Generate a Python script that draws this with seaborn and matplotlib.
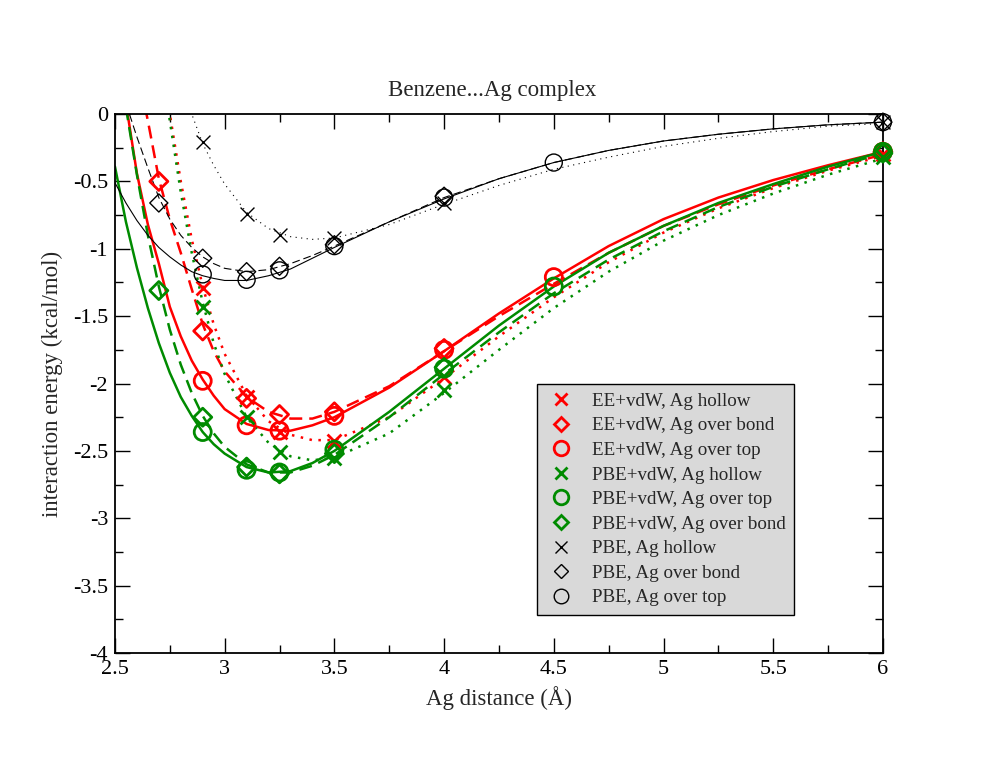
import numpy as np
import seaborn as sns
import matplotlib
matplotlib.use('Agg')
import matplotlib.pyplot as plt
from matplotlib.lines import Line2D
from matplotlib.ticker import MultipleLocator, FormatStrFormatter

nan = np.nan

# computed points (Ag distance in A, energy in kcal/mol)
r_hollow = [2.9, 3.1, 3.25, 3.5, 4.0, 6.0]
r_bond = [2.7, 2.9, 3.1, 3.25, 3.5, 4.0, 6.0]
r_top = [2.9, 3.1, 3.25, 3.5, 4.0, 4.5, 6.0]

ee_hollow = [-1.29, -2.10, -2.36, -2.43, -1.95, -0.30]
ee_bond = [-0.50, -1.61, -2.11, -2.23, -2.21, -1.74, -0.28]
ee_top = [-1.98, -2.31, -2.35, -2.24, -1.75, -1.21, -0.28]
vdw_hollow = [-1.43, -2.25, -2.51, -2.55, -2.05, -0.32]
vdw_top = [-2.36, -2.64, -2.66, -2.49, -1.89, -1.28, -0.28]
vdw_bond = [-1.31, -2.25, -2.62, -2.67, -2.52, -1.88, -0.29]
pbe_hollow = [-0.21, -0.74, -0.90, -0.92, -0.66, -0.06]
pbe_bond = [-0.66, -1.07, -1.17, -1.13, -0.97, -0.61, -0.06]
pbe_top = [-1.19, -1.23, -1.16, -0.98, -0.62, -0.36, -0.06]

# fitted curves
r_fit = [2.5, 2.55, 2.6, 2.65, 2.7, 2.75, 2.8, 2.85, 2.9, 2.95, 3.0, 3.1, 3.2,
         3.3, 3.4, 3.5, 3.75, 4.0, 4.25, 4.5, 4.75, 5.0, 5.25, 5.5, 5.75, 6.0]
ee_top_fit = [0.6, 0.08, -0.44, -0.82, -1.11, -1.43, -1.65, -1.83, -1.97, -2.09, -2.19, -2.30, -2.345,
              -2.35, -2.31, -2.25, -2.03, -1.76, -1.48, -1.22, -0.98, -0.78, -0.62, -0.49, -0.38, -0.28]
ee_bond_fit = [nan, nan, 0.35, -0.05, -0.48, -0.78, -1.03, -1.30, -1.56, -1.76, -1.91, -2.10, -2.21,
               -2.26, -2.26, -2.21, -2.02, -1.76, -1.50, -1.26, -1.03, -0.83, -0.67, -0.53, -0.41, -0.30]
ee_hollow_fit = [nan, nan, nan, nan, 0.5, 0.0, -0.50, -0.93, -1.28, -1.56, -1.78, -2.09, -2.28,
                 -2.38, -2.42, -2.42, -2.25, -1.96, -1.65, -1.36, -1.10, -0.88, -0.70, -0.55, -0.42, -0.31]
vdw_top_fit = [-0.39, -0.80, -1.14, -1.44, -1.70, -1.92, -2.10, -2.24, -2.36, -2.45, -2.52, -2.62, -2.66,
               -2.65, -2.59, -2.50, -2.21, -1.89, -1.57, -1.28, -1.03, -0.83, -0.66, -0.52, -0.39, -0.28]
vdw_bond_fit = [nan, 0.05, -0.45, -0.90, -1.28, -1.60, -1.86, -2.07, -2.24, -2.37, -2.47, -2.60, -2.66,
                -2.66, -2.61, -2.53, -2.25, -1.93, -1.62, -1.33, -1.08, -0.87, -0.69, -0.54, -0.41, -0.29]
vdw_hollow_fit = [nan, nan, nan, nan, 0.5, -0.05, -0.58, -1.03, -1.40, -1.70, -1.93, -2.25, -2.44,
                  -2.54, -2.57, -2.55, -2.37, -2.07, -1.75, -1.44, -1.17, -0.94, -0.75, -0.59, -0.45, -0.33]
pbe_top_fit = [-0.51, -0.66, -0.79, -0.90, -0.99, -1.06, -1.12, -1.17, -1.20, -1.22, -1.235, -1.235, -1.20,
               -1.15, -1.07, -0.99, -0.80, -0.63, -0.48, -0.36, -0.27, -0.20, -0.15, -0.11, -0.08, -0.06]
pbe_bond_fit = [nan, 0.08, -0.17, -0.40, -0.62, -0.78, -0.90, -0.99, -1.06, -1.11, -1.145, -1.17, -1.155,
                -1.11, -1.05, -0.98, -0.80, -0.62, -0.48, -0.36, -0.27, -0.20, -0.15, -0.11, -0.08, -0.06]
pbe_hollow_fit = [nan, nan, nan, nan, nan, nan, 0.3, 0.0, -0.22, -0.38, -0.52, -0.73, -0.85,
                  -0.91, -0.93, -0.92, -0.82, -0.67, -0.53, -0.41, -0.32, -0.24, -0.18, -0.13, -0.09, -0.07]

RED = '#ff0000'
GREEN = '#008b00'
BLACK = '#000000'

sns.set_style('ticks')
plt.rcParams['font.family'] = ['Liberation Serif', 'DejaVu Serif']
plt.rcParams['axes.unicode_minus'] = False

fig = plt.figure(figsize=(10.04, 7.69), dpi=100)
ax = fig.add_axes([0.1145, 0.1508, 0.7649, 0.7009])

# curves
fits = [
    (ee_top_fit, RED, '-', 1.8), (ee_bond_fit, RED, (0, (5.2, 2.8)), 1.8), (ee_hollow_fit, RED, (0, (1, 2.6)), 1.8),
    (vdw_top_fit, GREEN, '-', 1.8), (vdw_bond_fit, GREEN, (0, (5.2, 2.8)), 1.8), (vdw_hollow_fit, GREEN, (0, (1, 2.6)), 1.8),
    (pbe_top_fit, BLACK, '-', 0.8), (pbe_bond_fit, BLACK, (0, (7, 3.5)), 0.8), (pbe_hollow_fit, BLACK, (0, (1, 4)), 0.8),
]
for vals, c, ls, lw in fits:
    sns.lineplot(x=r_fit, y=vals, color=c, linestyle=ls, linewidth=lw, ax=ax, zorder=2)

# points
pts = [
    (r_hollow, ee_hollow, RED, 'x', 100, 2.0), (r_bond, ee_bond, RED, 'D', 85, 2.0), (r_top, ee_top, RED, 'o', 150, 2.0),
    (r_hollow, vdw_hollow, GREEN, 'x', 100, 2.0), (r_top, vdw_top, GREEN, 'o', 150, 2.0), (r_bond, vdw_bond, GREEN, 'D', 85, 2.0),
    (r_hollow, pbe_hollow, BLACK, 'x', 100, 1.0), (r_bond, pbe_bond, BLACK, 'D', 85, 1.0), (r_top, pbe_top, BLACK, 'o', 150, 1.0),
]
for x, y, c, m, s, lw in pts:
    if m == 'x':
        sns.scatterplot(x=x, y=y, marker=m, color=c, s=s, linewidth=lw, ax=ax, zorder=3, clip_on=False)
    else:
        sns.scatterplot(x=x, y=y, marker=m, facecolor='none', edgecolor=c, s=s, linewidth=lw, ax=ax,
                        zorder=3, clip_on=False)

ax.set_xlim(2.5, 6)
ax.set_ylim(-4, 0)
ax.xaxis.set_major_locator(MultipleLocator(0.5))
ax.xaxis.set_minor_locator(MultipleLocator(0.25))
ax.yaxis.set_major_locator(MultipleLocator(0.5))
ax.yaxis.set_minor_locator(MultipleLocator(0.25))
ax.xaxis.set_major_formatter(FormatStrFormatter('%g'))
ax.yaxis.set_major_formatter(FormatStrFormatter('%g'))
ax.tick_params(which='both', direction='in', top=True, right=True, width=1, colors='black',
               labelsize=16)
ax.tick_params(which='major', length=10.5, pad=5)
ax.tick_params(which='minor', length=5.5)
for sp in ax.spines.values():
    sp.set_linewidth(1.3)
    sp.set_color('black')

ax.set_title('Benzene...Ag complex', fontsize=16.5, pad=13, x=0.491)
ax.set_xlabel('Ag distance (Å)', fontsize=16.5, labelpad=5)
ax.set_ylabel('interaction energy (kcal/mol)', fontsize=16.5, labelpad=7)

# legend: markers only
labels = ['EE+vdW, Ag hollow', 'EE+vdW, Ag over bond', 'EE+vdW, Ag over top',
          'PBE+vdW, Ag hollow', 'PBE+vdW, Ag over top', 'PBE+vdW, Ag over bond',
          'PBE, Ag hollow', 'PBE, Ag over bond', 'PBE, Ag over top']
handles = []
for (x, y, c, m, s, lw), lab in zip(pts, labels):
    ms = {'x': 8, 'D': 7.5, 'o': 10.5}[m]
    handles.append(Line2D([], [], ls='none', marker=m, ms=ms, mew=lw, color=c, mfc='none', mec=c))
leg = ax.legend(handles, labels, loc='upper left', bbox_to_anchor=(537 / 1004, 1 - 384 / 769),
                bbox_transform=fig.transFigure, fontsize=13.7, frameon=True, fancybox=False,
                framealpha=1, facecolor='#d9d9d9', edgecolor='black', borderaxespad=0,
                handlelength=1.6, handletextpad=0.85, labelspacing=0.38, borderpad=0.45)
leg.get_frame().set_linewidth(1.0)

fig.savefig('out.png', dpi=100)
